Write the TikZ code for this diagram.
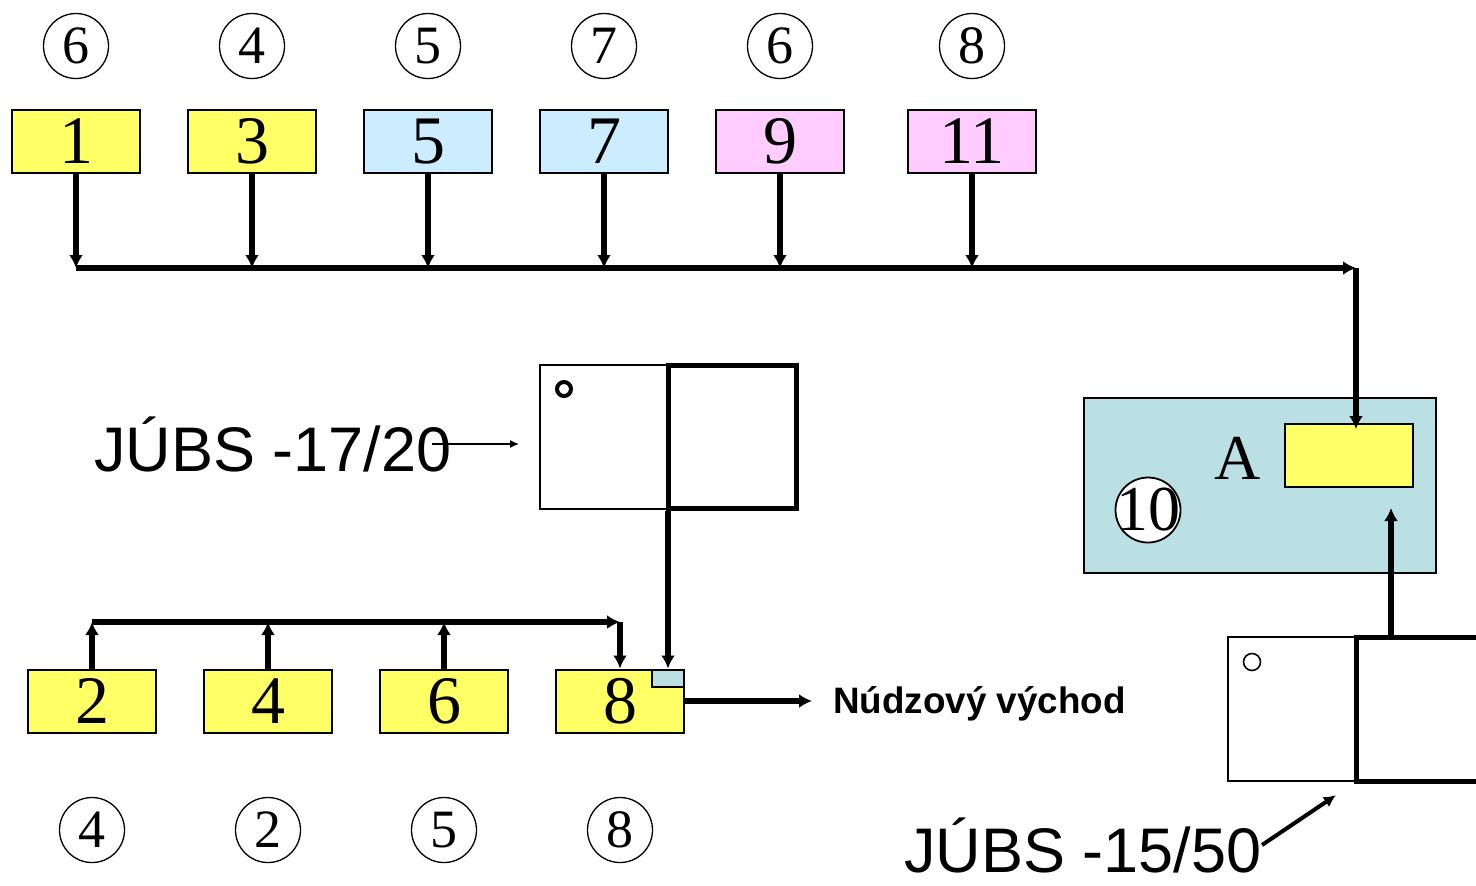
\documentclass[tikz,border=0pt]{standalone}
\usepackage{fontspec}
\setmainfont{Liberation Serif}
\setsansfont{Liberation Sans}
\usetikzlibrary{arrows.meta}

\definecolor{boxyellow}{HTML}{FFFF66}
\definecolor{boxblue}{HTML}{CCECFF}
\definecolor{boxpink}{HTML}{FFCCFF}
\definecolor{roomteal}{HTML}{BBE0E3}

\begin{document}
\begin{tikzpicture}[x = 0.5pt, y = -0.5pt]
\tikzstyle{BoxStyle}=[shape = rectangle,
                      draw,
                      line width = 1pt,
                      minimum width = 64pt,
                      minimum height = 31.5pt,
                      inner sep = 0pt,
                      font = \fontsize{34}{34}\selectfont]
\tikzstyle{NumStyle}=[shape = circle,
                      draw,
                      line width = 0.65pt,
                      minimum size = 32.5pt,
                      inner sep = 0pt,
                      font = \fontsize{27}{27}\selectfont]
\tikzstyle{RoomStyle}=[shape = rectangle,
                       draw,
                       inner sep = 0pt]
\tikzstyle{FlowStyle}=[line width = 3pt, -{Latex[length = 6.5pt, width = 7pt]}]
\tikzstyle{ThinFlowStyle}=[line width = 1pt, -{Latex[length = 4.5pt, width = 4pt]}]
\tikzstyle{MidFlowStyle}=[line width = 2pt, -{Latex[length = 6pt, width = 6pt]}]
\useasboundingbox (0,0) rectangle (1476,885);
\node[NumStyle] (c1) at (76,46) {6};
\node[NumStyle] (c3) at (252,46) {4};
\node[NumStyle] (c5) at (428,46) {5};
\node[NumStyle] (c7) at (604,46) {7};
\node[NumStyle] (c9) at (780,46) {6};
\node[NumStyle] (c11) at (972,46) {8};
\node[BoxStyle, fill = boxyellow] (v1) at (76,141.5) {1};
\node[BoxStyle, fill = boxyellow] (v3) at (252,141.5) {3};
\node[BoxStyle, fill = boxblue] (v5) at (428,141.5) {5};
\node[BoxStyle, fill = boxblue] (v7) at (604,141.5) {7};
\node[BoxStyle, fill = boxpink] (v9) at (780,141.5) {9};
\node[BoxStyle, fill = boxpink] (v11) at (972,141.5) {11};
\coordinate (h1) at (76,268);
\coordinate (h3) at (252,268);
\coordinate (h5) at (428,268);
\coordinate (h7) at (604,268);
\coordinate (h9) at (780,268);
\coordinate (h11) at (972,268);
\coordinate (hr) at (1356,268);
\node[RoomStyle, fill = roomteal, line width = 0.8pt, minimum width = 176pt, minimum height = 87.5pt] (room) at (1260,485.5) {};
\node[BoxStyle, fill = boxyellow] (ya) at (1349,455.5) {};
\node[font = \fontsize{32}{32}\selectfont] (la) at (1238,458) {A};
\node[NumStyle, line width = 0.9pt, fill = white, label = {[font = \fontsize{32}{32}\selectfont]center:10}] (c10) at (1148,510) {};
\node[RoomStyle, line width = 0.8pt, minimum width = 64pt, minimum height = 72pt] (j1) at (604,437) {};
\node[RoomStyle, line width = 2.5pt, minimum width = 64pt, minimum height = 71.5pt] (k1) at (732,437) {};
\node[shape = circle, draw, line width = 2pt, minimum size = 7pt, inner sep = 0pt] (o1) at (564,389) {};
\node[anchor = east, inner sep = 0pt, font = \sffamily\fontsize{31.5}{31.5}\selectfont] (t1) at (452,444) {JÚBS -17/20};
\node[BoxStyle, fill = boxyellow] (v2) at (92,701) {2};
\node[BoxStyle, fill = boxyellow] (v4) at (268,701) {4};
\node[BoxStyle, fill = boxyellow] (v6) at (444,701) {6};
\node[BoxStyle, fill = boxyellow] (v8) at (620,701) {8};
\node[RoomStyle, fill = roomteal, line width = 1pt, minimum width = 16pt, minimum height = 8.5pt, anchor = north east] (e8) at (v8.north east) {};
\coordinate (g2) at (92,622);
\coordinate (g4) at (268,622);
\coordinate (g6) at (444,622);
\coordinate (g8) at (620,622);
\node[NumStyle] (c2) at (92,830) {4};
\node[NumStyle] (c4) at (268,830) {2};
\node[NumStyle] (c6) at (444,830) {5};
\node[NumStyle] (c8) at (620,830) {8};
\node[anchor = west, inner sep = 0pt, font = \sffamily\bfseries\fontsize{18.4}{18.4}\selectfont] (nv) at (833,704) {Núdzový východ};
\node[RoomStyle, line width = 0.8pt, minimum width = 63.5pt, minimum height = 72pt] (j2) at (1291.5,709) {};
\node[RoomStyle, line width = 2.5pt, minimum width = 64pt, minimum height = 72pt] (k2) at (1420,709) {};
\node[shape = circle, draw, line width = 0.8pt, minimum size = 8.5pt, inner sep = 0pt] (o2) at (1252,662) {};
\node[anchor = east, inner sep = 0pt, font = \sffamily\fontsize{31.5}{31.5}\selectfont] (t2) at (1262,845) {JÚBS -15/50};
\coordinate (au) at (1391,508);
\draw[FlowStyle] (v1.south) -- (h1);
\draw[FlowStyle] (v3.south) -- (h3);
\draw[FlowStyle] (v5.south) -- (h5);
\draw[FlowStyle] (v7.south) -- (h7);
\draw[FlowStyle] (v9.south) -- (h9);
\draw[FlowStyle] (v11.south) -- (h11);
\draw[FlowStyle] (h1) -- (hr);
\draw[FlowStyle] (hr) -- ([yshift = -3pt]ya.north -| hr);
\draw[FlowStyle] (au |- k2.north) -- (au);
\draw[ThinFlowStyle] ([xshift = -10pt]t1.east) -- ([xshift = -10pt]t1.east -| j1.west);
\draw[FlowStyle] (e8.north |- k1.south) -- (e8.north);
\draw[FlowStyle] (v2.north) -- (g2);
\draw[FlowStyle] (v4.north) -- (g4);
\draw[FlowStyle] (v6.north) -- (g6);
\draw[FlowStyle] (g2) -- (g8);
\draw[FlowStyle] (g8) -- (v8.north);
\draw[FlowStyle, shorten > = 10.5pt] (v8.east) -- (v8.east -| nv.west);
\draw[MidFlowStyle, shorten > = 12pt] (t2.east) -- (j2.south east);
\end{tikzpicture}
\end{document}
